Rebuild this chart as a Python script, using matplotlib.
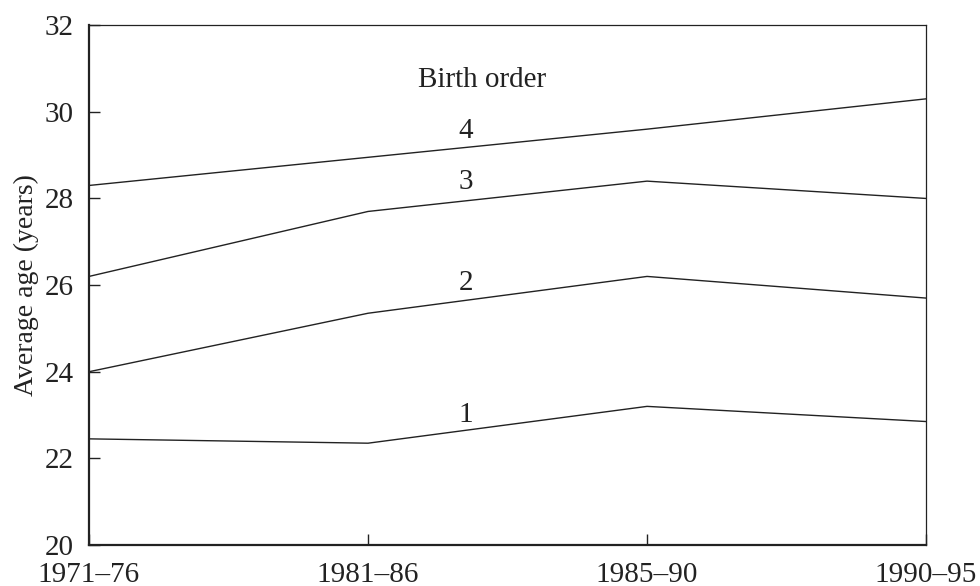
import numpy as np
import matplotlib.pyplot as plt

plt.rcParams['font.family'] = ['Liberation Serif', 'DejaVu Serif']

# periods and average age at birth, by birth order
periods = ['1971–76', '1981–86', '1985–90', '1990–95']
order_1 = [22.45, 22.35, 23.2, 22.85]
order_2 = [24.0, 25.35, 26.2, 25.7]
order_3 = [26.2, 27.7, 28.4, 28.0]
order_4 = [28.3, 28.95, 29.6, 30.3]
series = [order_1, order_2, order_3, order_4]
labels = ['1', '2', '3', '4']
label_y = [23.0, 26.05, 28.38, 29.55]

x = np.arange(len(periods))

fig = plt.figure(figsize=(9.8, 5.86), dpi=100)
ax = fig.add_axes([0.0908, 0.07, 0.945 - 0.0908, 0.957 - 0.07])

for s in series:
    ax.plot(x, s, color='#222222', lw=1.0)

for lab, ly in zip(labels, label_y):
    ax.text(1.35, ly, lab, fontsize=21, ha='center', va='center', color='#222222')

ax.text(1.41, 30.73, 'Birth order', fontsize=21, ha='center', va='center', color='#222222')

ax.set_xlim(0, 3)
ax.set_ylim(20, 32)
ax.set_xticks(x)
ax.set_xticklabels(periods)
ax.set_yticks([20, 22, 24, 26, 28, 30, 32])
ax.tick_params(direction='in', length=8, width=1.0, labelsize=21, colors='#222222')
ax.tick_params(axis='x', pad=12)
ax.tick_params(axis='y', pad=11)
ax.set_ylabel('Average age (years)', fontsize=20, color='#222222', labelpad=4)

for side in ['left', 'bottom']:
    ax.spines[side].set_linewidth(1.6)
for side in ['top', 'right']:
    ax.spines[side].set_linewidth(0.9)
for sp in ax.spines.values():
    sp.set_color('#222222')

fig.savefig('out.png', dpi=100)
